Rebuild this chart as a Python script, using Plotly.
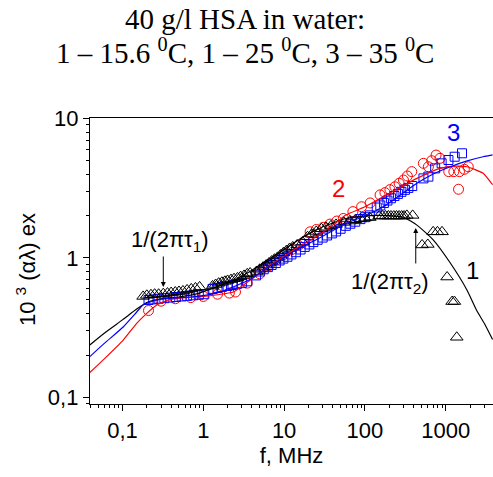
import plotly.graph_objects as go

# ---- measured points (f in MHz, value) ----
s1_f = [0.18, 0.20, 0.225, 0.25, 0.28, 0.32, 0.36, 0.40, 0.45, 0.50, 0.56, 0.63, 0.71, 0.80, 0.90,
        1.3, 1.42, 1.55, 1.7, 1.85, 2.0, 2.2, 2.4, 2.65, 2.9, 3.2, 3.5, 3.8,
        4.6, 5.0, 5.5, 6.0, 6.5, 7.0, 7.6, 8.3, 9.0, 9.8, 10.7, 11.7, 12.8,
        14.5, 17, 19.5, 22, 25, 29, 33, 38, 44,
        55, 65, 76, 88, 100, 115,
        150, 165, 180, 195, 210, 228, 246, 265, 285, 305, 330, 390,
        510, 600, 700, 790, 900, 1040, 1200, 1280, 1370]
s1_v = [0.53, 0.54, 0.545, 0.55, 0.55, 0.555, 0.56, 0.565, 0.57, 0.575, 0.58, 0.59, 0.60, 0.61, 0.62,
        0.63, 0.645, 0.66, 0.67, 0.68, 0.69, 0.70, 0.71, 0.72, 0.735, 0.75, 0.77, 0.78,
        0.80, 0.83, 0.86, 0.89, 0.92, 0.95, 0.98, 1.01, 1.05, 1.09, 1.13, 1.17, 1.20,
        1.24, 1.30, 1.42, 1.48, 1.55, 1.62, 1.66, 1.70, 1.74,
        1.80, 1.84, 1.88, 1.91, 1.93, 1.95,
        2.0, 2.0, 2.0, 2.0, 2.0, 2.0, 2.0, 2.0, 2.0, 2.0, 2.02, 2.02,
        1.24, 1.25, 1.54, 1.54, 1.54, 0.73, 0.487, 0.487, 0.27]

s2_f = [0.21, 0.3, 0.45, 0.7, 1.0, 1.5, 2.1, 2.5,
        3.5, 5.0, 6.5, 8.0, 10, 12.5, 15, 18,
        21, 25, 30.5, 37, 45, 54, 71, 91, 116,
        154, 177, 204, 235, 265, 300, 335, 380,
        529, 610, 670, 760, 850,
        1090, 1260, 1480, 1700, 1900, 1440]
s2_v = [0.42, 0.49, 0.51, 0.52, 0.53, 0.55, 0.56, 0.57,
        0.66, 0.77, 0.88, 0.97, 1.06, 1.15, 1.23, 1.32,
        1.54, 1.60, 1.66, 1.75, 1.84, 1.92, 2.15, 2.33, 2.48,
        2.83, 2.94, 3.09, 3.24, 3.43, 3.62, 3.87, 4.16,
        4.77, 4.51, 4.98, 5.47, 5.18,
        4.16, 4.16, 4.16, 4.32, 4.51, 3.11]

s3_f = [0.21, 0.24, 0.28, 0.33, 0.39, 0.46, 0.54, 0.63, 0.75, 0.88, 1.03,
        1.3, 1.5, 1.7, 2.0, 2.3, 2.6, 3.0, 3.5,
        4.5, 5.0, 5.6, 6.3, 7.0, 7.9, 8.8, 9.8, 11, 12.3,
        14, 16, 18, 20.5, 23, 26, 30, 34, 39, 44,
        50, 58, 66, 76, 88, 100, 115,
        140, 155, 172, 190, 210, 232, 256, 283, 313, 345, 385,
        530, 610, 740, 890, 1080, 1290, 1590]
s3_v = [0.50, 0.505, 0.51, 0.515, 0.52, 0.525, 0.53, 0.535, 0.54, 0.545, 0.55,
        0.60, 0.61, 0.62, 0.63, 0.64, 0.65, 0.66, 0.68,
        0.75, 0.80, 0.83, 0.86, 0.89, 0.92, 0.96, 0.99, 1.02, 1.06,
        1.10, 1.15, 1.20, 1.25, 1.30, 1.35, 1.40, 1.45, 1.50, 1.55,
        1.62, 1.70, 1.76, 1.82, 1.90, 1.96, 2.02,
        2.30, 2.38, 2.48, 2.58, 2.68, 2.78, 2.88, 2.98, 3.08, 3.18, 3.28,
        3.72, 3.83, 4.39, 4.77, 5.04, 5.32, 5.63]

# ---- fitted curves ----
fit1_f = [0.0394, 0.06, 0.1, 0.15, 0.2, 0.3, 0.5, 0.8, 1.46, 2.5, 3.78, 6, 9.8, 16, 25, 40, 58, 90,
          140, 200, 300, 440, 700, 1140, 1830, 2420, 3000, 3800]
fit1_v = [0.238, 0.29, 0.36, 0.43, 0.48, 0.51, 0.525, 0.55, 0.62, 0.70, 0.80, 0.95, 1.14, 1.38, 1.59,
          1.78, 1.92, 1.99, 2.02, 2.01, 1.96, 1.72, 1.35, 0.92, 0.59, 0.42, 0.34, 0.26]
fit2_f = [0.0394, 0.06, 0.102, 0.15, 0.181, 0.265, 0.39, 0.6, 1.0, 1.5, 2.35, 3.5, 5.0, 7, 9.8, 15,
          25, 40, 58, 100, 168, 270, 440, 850, 1300, 1830, 2900, 3800]
fit2_v = [0.151, 0.19, 0.258, 0.34, 0.38, 0.46, 0.505, 0.52, 0.53, 0.545, 0.57, 0.67, 0.78, 0.90,
          1.02, 1.20, 1.42, 1.72, 2.03, 2.33, 2.75, 3.19, 3.72, 4.39, 4.55, 4.51, 4.05, 3.35]
fit3_f = [0.0394, 0.06, 0.102, 0.15, 0.18, 0.265, 0.4, 0.7, 1.46, 2.5, 3.78, 6, 9.8, 15, 25, 40, 58,
          100, 168, 270, 440, 700, 1140, 1800, 2900, 3800]
fit3_v = [0.196, 0.245, 0.32, 0.41, 0.46, 0.50, 0.515, 0.525, 0.56, 0.63, 0.70, 0.84, 1.0, 1.17,
          1.35, 1.57, 1.77, 2.0, 2.33, 2.81, 3.43, 4.0, 4.51, 4.95, 5.32, 5.48]

x_tickvals = [0.1, 1, 10, 100, 1000]
x_ticktext = ["0,1", "1", "10", "100", "1000"]
y_tickvals = [0.1, 1, 10]
y_ticktext = ["0,1", "1", "10"]

SANS = "Liberation Sans, Arial, sans-serif"
SERIF = "Liberation Serif, Times New Roman, serif"

fig = go.Figure()
fig.add_trace(go.Scatter(x=s2_f, y=s2_v, mode="markers",
                         marker=dict(symbol="circle-open", size=10, color="red", line=dict(width=1))))
fig.add_trace(go.Scatter(x=s3_f, y=s3_v, mode="markers",
                         marker=dict(symbol="square-open", size=9, color="blue", line=dict(width=1))))
fig.add_trace(go.Scatter(x=s1_f, y=s1_v, mode="markers",
                         marker=dict(symbol="triangle-up-open", size=11, color="black", line=dict(width=1))))
for fx, fy, c in [(fit1_f, fit1_v, "black"), (fit2_f, fit2_v, "red"), (fit3_f, fit3_v, "blue")]:
    fig.add_trace(go.Scatter(x=fx, y=fy, mode="lines",
                             line=dict(color=c, width=1.2, shape="spline", smoothing=0.5)))

ann = []
ann.append(dict(text="40 g/l HSA in water:", xref="paper", yref="paper", x=0.3846, y=1.345,
                xanchor="center", yanchor="middle", showarrow=False,
                font=dict(family=SERIF, size=29, color="black")))
ann.append(dict(text="1 – 15.6 <sup>0</sup>C, 1 – 25 <sup>0</sup>C, 3 – 35 <sup>0</sup>C",
                xref="paper", yref="paper", x=0.3846, y=1.235,
                xanchor="center", yanchor="middle", showarrow=False,
                font=dict(family=SERIF, size=29, color="black")))
ann.append(dict(text="10 <sup>3</sup> (αλ) ex", xref="paper", yref="paper", x=-0.16, y=0.47,
                textangle=-90, xanchor="center", yanchor="middle", showarrow=False,
                font=dict(family=SANS, size=22, color="black")))
ann.append(dict(text="1", x=3.33, y=-0.09, showarrow=False, font=dict(family=SANS, size=24, color="black")))
ann.append(dict(text="2", x=1.667, y=0.495, showarrow=False, font=dict(family=SANS, size=24, color="red")))
ann.append(dict(text="3", x=3.09, y=0.903, showarrow=False, font=dict(family=SANS, size=24, color="blue")))
ann.append(dict(text="1/(2πτ<sub>1</sub>)", x=-0.412, y=0.12, showarrow=False,
                font=dict(family=SANS, size=22, color="black")))
ann.append(dict(text="1/(2πτ<sub>2</sub>)", x=2.31, y=-0.18, showarrow=False,
                font=dict(family=SANS, size=22, color="black")))
ann.append(dict(text="", x=-0.495, y=-0.208, ax=-0.495, ay=0.0215, axref="x", ayref="y",
                showarrow=True, arrowhead=2, arrowsize=1, arrowwidth=1, arrowcolor="black"))
ann.append(dict(text="", x=2.629, y=0.215, ax=2.629, ay=-0.05, axref="x", ayref="y",
                showarrow=True, arrowhead=2, arrowsize=1, arrowwidth=1, arrowcolor="black"))

fig.update_layout(
    width=493, height=477, margin=dict(l=90, r=0, t=118, b=73),
    paper_bgcolor="white", plot_bgcolor="white", showlegend=False,
    annotations=ann,
    xaxis=dict(type="log", range=[-1.402, 3.585], showgrid=False, zeroline=False,
               showline=True, linecolor="black", linewidth=1.3, mirror=True,
               ticks="outside", ticklen=6, tickcolor="black", tickwidth=1,
               tickmode="array", tickvals=x_tickvals, ticktext=x_ticktext,
               tickfont=dict(family=SANS, size=22, color="black"),
               minor=dict(ticks="outside", ticklen=3, tickcolor="black", dtick="D1", showgrid=False),
               title=dict(text="f, MHz", font=dict(family=SANS, size=22, color="black"), standoff=2)),
    yaxis=dict(type="log", range=[-1.047, 1.0036], showgrid=False, zeroline=False,
               showline=True, linecolor="black", linewidth=1.3,
               ticks="outside", ticklen=6, tickcolor="black", tickwidth=1,
               tickmode="array", tickvals=y_tickvals, ticktext=y_ticktext,
               tickfont=dict(family=SANS, size=22, color="black"),
               minor=dict(ticks="outside", ticklen=3, tickcolor="black", dtick="D1", showgrid=False)),
)
fig.write_html("out.html")
